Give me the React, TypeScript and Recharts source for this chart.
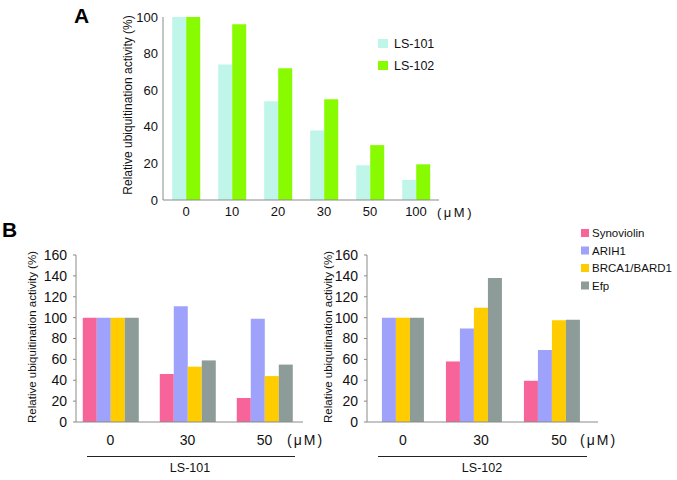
import React from 'react';
import { BarChart, Bar, XAxis, YAxis } from 'recharts';

// Panel A
const dosesA = ['0', '10', '20', '30', '50', '100'];
const ls101 = [100, 74, 54, 38, 19, 11];
const ls102 = [100, 96, 72, 55, 30, 19.5];
const ticksA = [0, 20, 40, 60, 80, 100];

// Panel B
const dosesB = ['0', '30', '50'];
const enzymes = ['Synoviolin', 'ARIH1', 'BRCA1/BARD1', 'Efp'];
const syn101 = [100, 46, 23];
const arih101 = [100, 111, 99];
const brca101 = [100, 53, 44];
const efp101 = [100, 59, 55];
const syn102 = [null, 58, 39.5];
const arih102 = [100, 89.5, 69];
const brca102 = [100, 109.5, 97.5];
const efp102 = [100, 138, 98];
const ticksB = [0, 20, 40, 60, 80, 100, 120, 140, 160];

const FONT = '"Liberation Sans", Arial, sans-serif';
const AXIS = '#8a8a8a';
const colorsA = ['#c0f5ea', '#88fb00'];
const colorsB = ['#f7649a', '#9ea2fa', '#ffcc00', '#8d9c98'];

const dataA = dosesA.map((d, i) => ({ dose: d, ls101: ls101[i], ls102: ls102[i] }));
const makeB = (s: any[], a: any[], b: any[], e: any[]) =>
  dosesB.map((d, i) => ({ dose: d, s: s[i], a: a[i], b: b[i], e: e[i] }));
const dataB101 = makeB(syn101, arih101, brca101, efp101);
const dataB102 = makeB(syn102, arih102, brca102, efp102);
const keysB = ['s', 'a', 'b', 'e'];

const yTitle = 'Relative ubiquitination activity (%)';

const PanelB = ({ data, width, marginLeft, marginRight, yWidth, padLeft, padRight, tickDx }: any) => (
  <BarChart
    width={width}
    height={222}
    data={data}
    margin={{ top: 25, left: marginLeft, right: marginRight, bottom: 0 }}
    barCategoryGap="14%"
    barGap={0}
  >
    <XAxis
      dataKey="dose"
      height={30}
      tickLine={false}
      tickSize={0}
      tickMargin={13}
      padding={{ left: padLeft, right: padRight }}
      axisLine={{ stroke: AXIS }}
      tick={{ fill: '#111', fontSize: 14, fontFamily: FONT, dx: tickDx }}
    />
    <YAxis
      width={yWidth}
      domain={[0, 160]}
      ticks={ticksB}
      interval={0}
      tickSize={3}
      tickMargin={6}
      tickLine={{ stroke: AXIS }}
      axisLine={{ stroke: AXIS }}
      tick={{ fill: '#111', fontSize: 14, fontFamily: FONT }}
    />
    {keysB.map((k, i) => (
      <Bar key={k} dataKey={k} fill={colorsB[i]} isAnimationActive={false} />
    ))}
  </BarChart>
);

export default function App() {
  return (
    <div style={{ position: 'absolute', left: 0, top: 0, width: 677, height: 480, background: '#fff', fontFamily: FONT }}>
      <div style={{ position: 'absolute', left: 0, top: 0 }}>
        <BarChart
          width={677}
          height={230}
          data={dataA}
          margin={{ top: 17, left: 123, right: 238, bottom: 0 }}
          barCategoryGap="20%"
          barGap={0}
        >
          <XAxis
            dataKey="dose"
            height={30}
            tickLine={false}
            tickSize={0}
            tickMargin={7}
            axisLine={{ stroke: AXIS }}
            tick={{ fill: '#111', fontSize: 13, fontFamily: FONT }}
          />
          <YAxis
            width={40}
            domain={[0, 100]}
            ticks={ticksA}
            interval={0}
            tickLine={false}
            tickSize={0}
            tickMargin={5}
            axisLine={{ stroke: AXIS }}
            tick={{ fill: '#111', fontSize: 13, fontFamily: FONT }}
          />
          <Bar dataKey="ls101" fill={colorsA[0]} isAnimationActive={false} />
          <Bar dataKey="ls102" fill={colorsA[1]} isAnimationActive={false} />
        </BarChart>
      </div>
      <div style={{ position: 'absolute', left: 0, top: 230 }}>
        <PanelB data={dataB101} width={340} marginLeft={36} marginRight={37} yWidth={40} padLeft={-4} padRight={0} tickDx={0} />
      </div>
      <div style={{ position: 'absolute', left: 335, top: 230 }}>
        <PanelB data={dataB102} width={342} marginLeft={0} marginRight={79} yWidth={32} padLeft={-10} padRight={7} tickDx={7} />
      </div>
      <svg
        width={677}
        height={480}
        style={{ position: 'absolute', left: 0, top: 0, pointerEvents: 'none', fontFamily: FONT }}
      >
        <text x={74} y={23} fontSize={21} fontWeight="bold" fill="#000">A</text>
        <text x={2} y={237} fontSize={21} fontWeight="bold" fill="#000">B</text>

        <text transform="translate(132,105) rotate(-90)" textAnchor="middle" fontSize={12} fill="#111">{yTitle}</text>
        <text transform="translate(36,337) rotate(-90)" textAnchor="middle" fontSize={11.5} fill="#111">{yTitle}</text>
        <text transform="translate(332,337) rotate(-90)" textAnchor="middle" fontSize={11.5} fill="#111">{yTitle}</text>

        <text x={437} y={217} fontSize={13} fill="#111" letterSpacing={2.5}>(μM)</text>
        <text x={287} y={445} fontSize={14} fill="#111" letterSpacing={2}>(μM)</text>
        <text x={580} y={445} fontSize={14} fill="#111" letterSpacing={2}>(μM)</text>

        <line x1={87} x2={295} y1={456.5} y2={456.5} stroke="#222" strokeWidth={1} />
        <line x1={378} x2={587} y1={456.5} y2={456.5} stroke="#222" strokeWidth={1} />
        <text x={190} y={472} textAnchor="middle" fontSize={12.5} fill="#111">LS-101</text>
        <text x={482} y={472} textAnchor="middle" fontSize={12.5} fill="#111">LS-102</text>

        {['LS-101', 'LS-102'].map((name, i) => (
          <g key={name}>
            <rect x={378} y={39 + i * 22} width={10} height={9} fill={colorsA[i]} />
            <text x={394} y={48 + i * 22} fontSize={12.5} fill="#111">{name}</text>
          </g>
        ))}
        {enzymes.map((name, i) => (
          <g key={name}>
            <rect x={581} y={229 + i * 17.5} width={8} height={8} fill={colorsB[i]} />
            <text x={592} y={237 + i * 17.5} fontSize={11.5} fill="#111">{name}</text>
          </g>
        ))}
      </svg>
    </div>
  );
}
